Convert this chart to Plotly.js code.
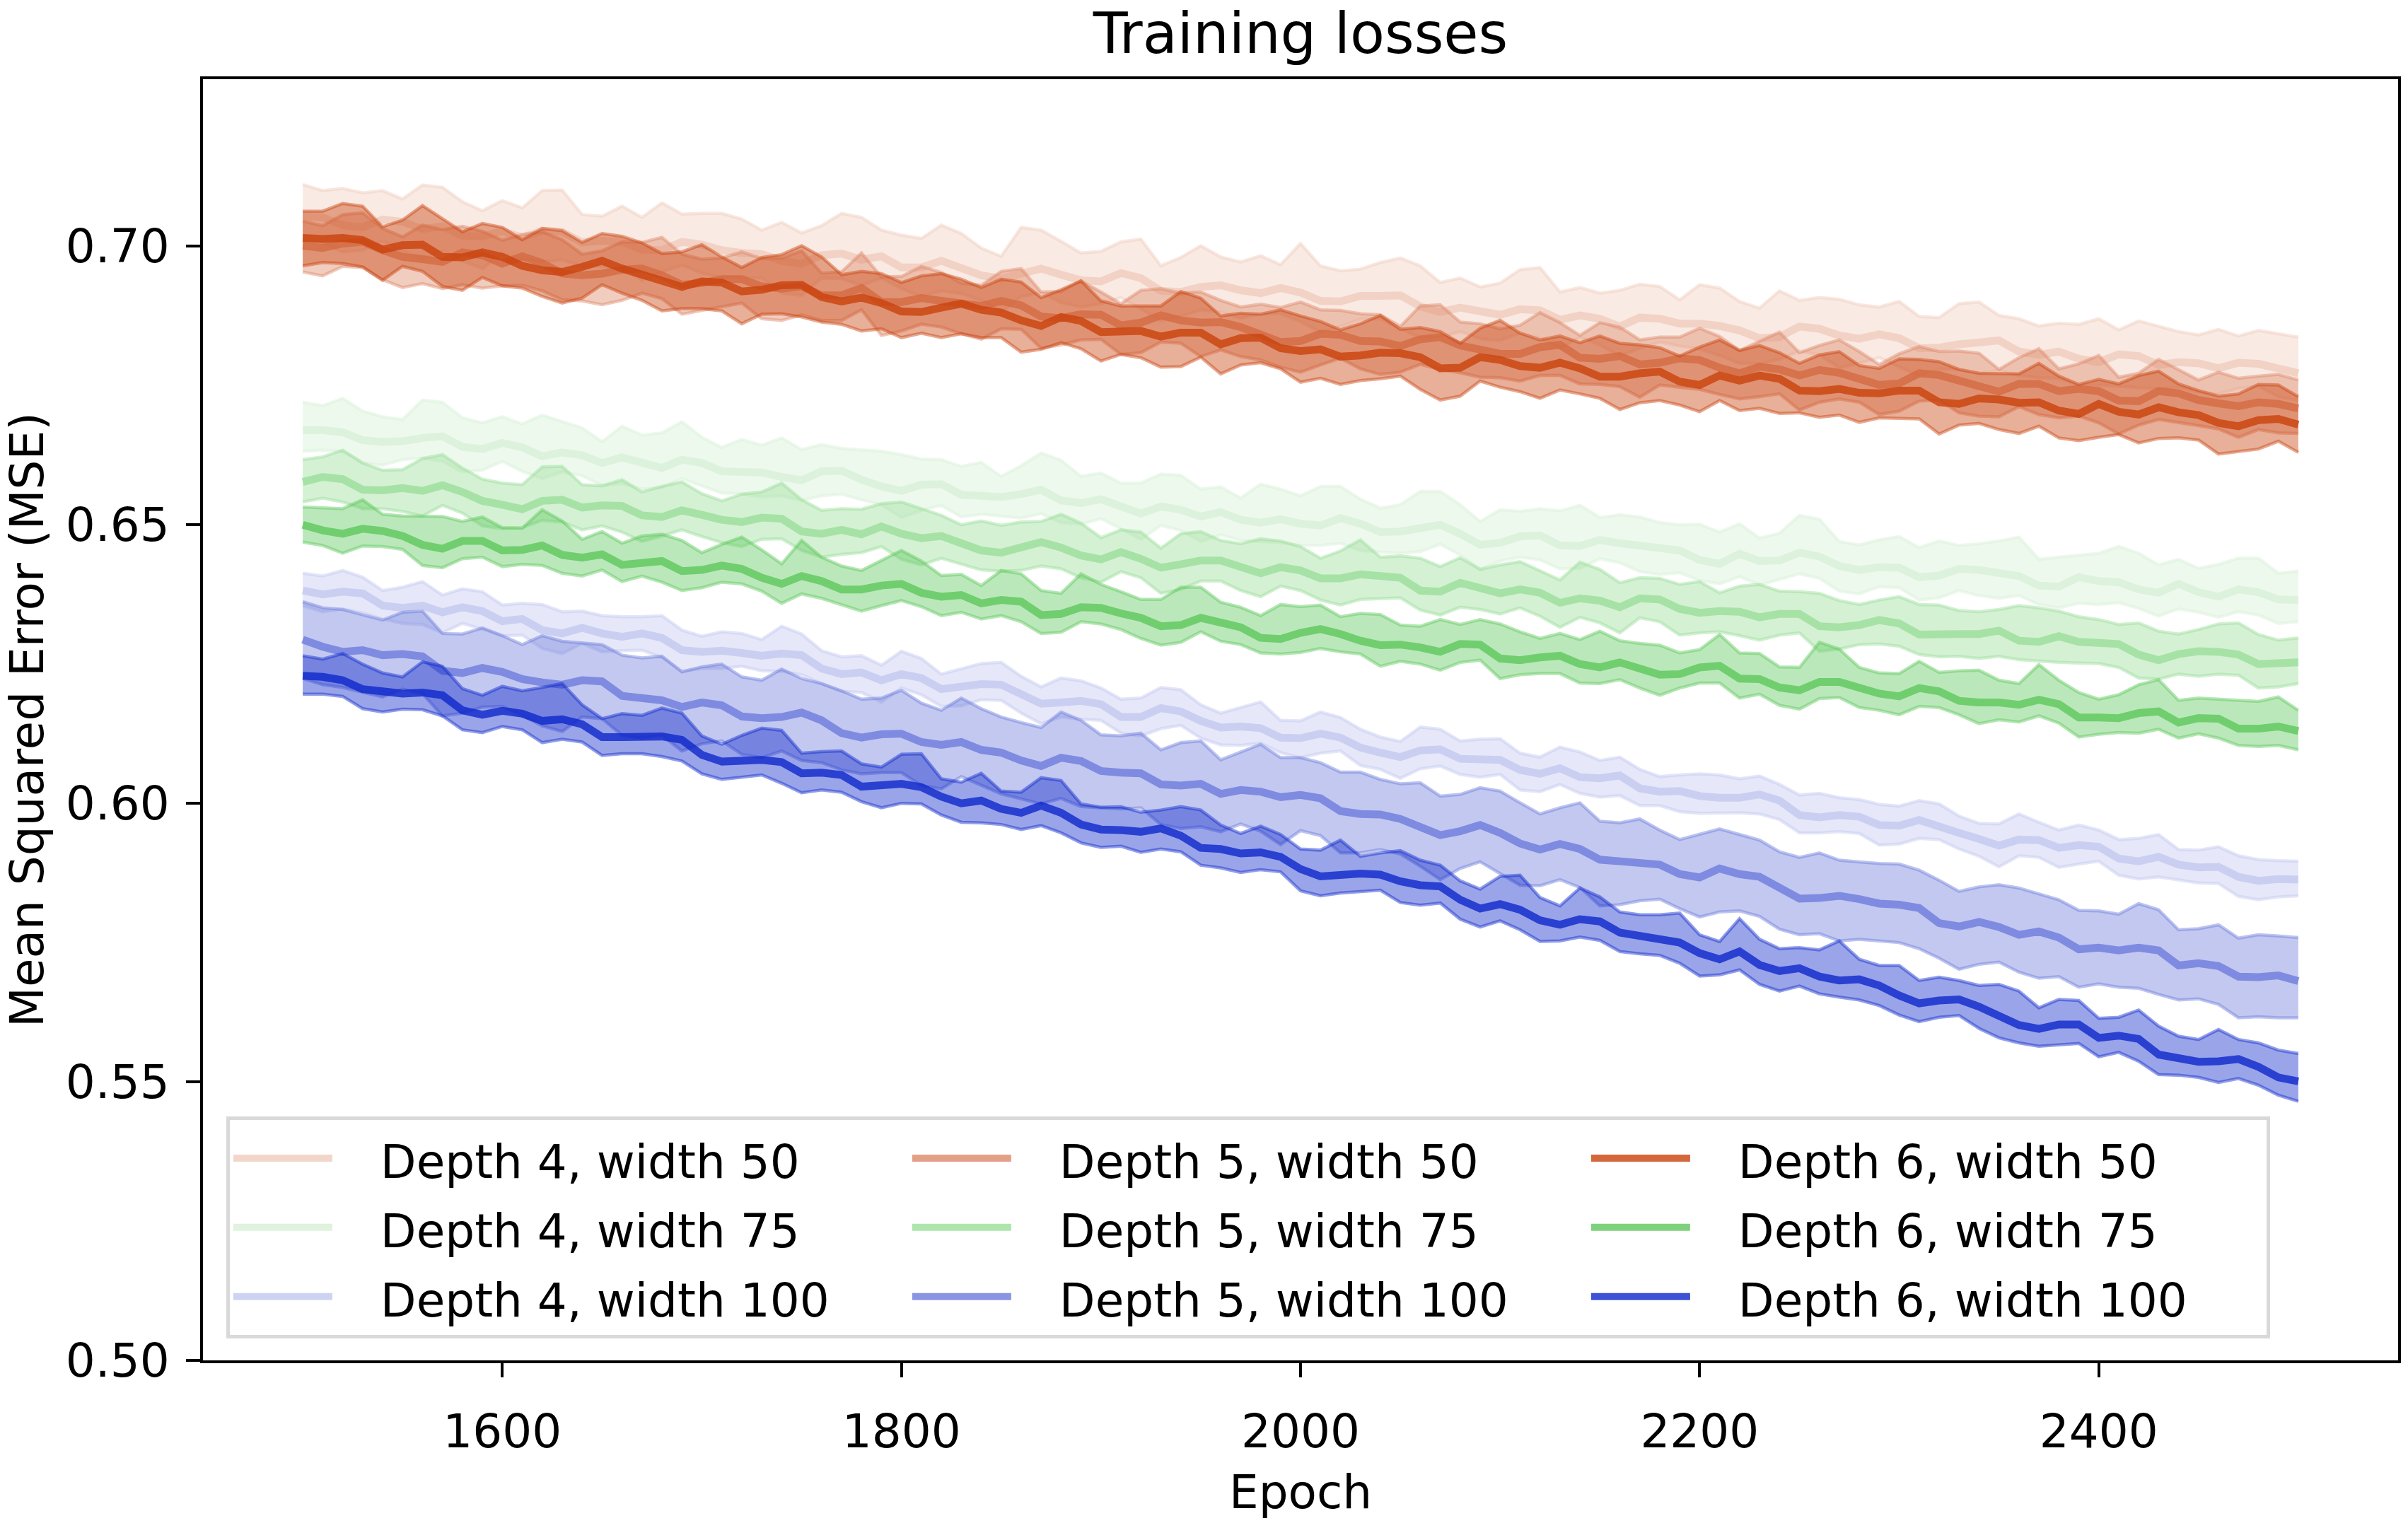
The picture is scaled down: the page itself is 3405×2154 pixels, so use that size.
<!DOCTYPE html>
<html>
<head>
<meta charset="utf-8">
<script src="https://cdn.plot.ly/plotly-3.0.1.min.js"></script>
<style>
  html, body { margin: 0; padding: 0; background: #fff; }
  #chart { width: 3405px; height: 2154px; }
</style>
</head>
<body>
<div id="chart"></div>
<script>
// epochs sampled every 10 steps
let epochs = [1500, 1510, 1520, 1530, 1540, 1550, 1560, 1570, 1580, 1590,
              1600, 1610, 1620, 1630, 1640, 1650, 1660, 1670, 1680, 1690,
              1700, 1710, 1720, 1730, 1740, 1750, 1760, 1770, 1780, 1790,
              1800, 1810, 1820, 1830, 1840, 1850, 1860, 1870, 1880, 1890,
              1900, 1910, 1920, 1930, 1940, 1950, 1960, 1970, 1980, 1990,
              2000, 2010, 2020, 2030, 2040, 2050, 2060, 2070, 2080, 2090,
              2100, 2110, 2120, 2130, 2140, 2150, 2160, 2170, 2180, 2190,
              2200, 2210, 2220, 2230, 2240, 2250, 2260, 2270, 2280, 2290,
              2300, 2310, 2320, 2330, 2340, 2350, 2360, 2370, 2380, 2390,
              2400, 2410, 2420, 2430, 2440, 2450, 2460, 2470, 2480, 2490, 2500];

let xTicks = [1600, 1800, 2000, 2200, 2400];
let yTicks = [0.50, 0.55, 0.60, 0.65, 0.70];
let yTickLabels = ["0.50", "0.55", "0.60", "0.65", "0.70"];

// mean training loss per configuration
let d4w50Mean = [0.7053, 0.7052, 0.7038, 0.7034, 0.7048, 0.7044, 0.7031, 0.7036, 0.7019, 0.7018,
                 0.7027, 0.7016, 0.7028, 0.7026, 0.7007, 0.7010, 0.7008, 0.6994, 0.6993, 0.7008,
                 0.7003, 0.6993, 0.6988, 0.6986, 0.6974, 0.6969, 0.6984, 0.6987, 0.6976, 0.6982,
                 0.6962, 0.6962, 0.6974, 0.6962, 0.6948, 0.6942, 0.6952, 0.6960, 0.6949, 0.6939,
                 0.6937, 0.6952, 0.6943, 0.6920, 0.6918, 0.6927, 0.6930, 0.6921, 0.6916, 0.6925,
                 0.6917, 0.6902, 0.6901, 0.6911, 0.6911, 0.6912, 0.6892, 0.6882, 0.6890, 0.6883,
                 0.6877, 0.6887, 0.6885, 0.6868, 0.6876, 0.6870, 0.6856, 0.6872, 0.6870, 0.6861,
                 0.6861, 0.6857, 0.6849, 0.6835, 0.6837, 0.6856, 0.6852, 0.6840, 0.6834, 0.6842,
                 0.6835, 0.6817, 0.6818, 0.6824, 0.6827, 0.6831, 0.6811, 0.6805, 0.6811, 0.6798,
                 0.6792, 0.6806, 0.6803, 0.6787, 0.6792, 0.6790, 0.6781, 0.6791, 0.6789, 0.6779, 0.6772];
let d5w50Mean = [0.7001, 0.6997, 0.7005, 0.7008, 0.6993, 0.6981, 0.6977, 0.6972, 0.6989, 0.6984,
                 0.6969, 0.6982, 0.6970, 0.6951, 0.6948, 0.6951, 0.6958, 0.6960, 0.6948, 0.6931,
                 0.6934, 0.6941, 0.6941, 0.6928, 0.6924, 0.6928, 0.6912, 0.6912, 0.6925, 0.6900,
                 0.6900, 0.6907, 0.6902, 0.6897, 0.6893, 0.6902, 0.6894, 0.6874, 0.6871, 0.6878,
                 0.6877, 0.6858, 0.6863, 0.6876, 0.6867, 0.6863, 0.6864, 0.6855, 0.6842, 0.6828,
                 0.6830, 0.6843, 0.6841, 0.6830, 0.6829, 0.6821, 0.6833, 0.6837, 0.6822, 0.6816,
                 0.6807, 0.6807, 0.6819, 0.6823, 0.6800, 0.6798, 0.6803, 0.6788, 0.6791, 0.6799,
                 0.6796, 0.6782, 0.6772, 0.6784, 0.6779, 0.6768, 0.6778, 0.6773, 0.6762, 0.6751,
                 0.6754, 0.6772, 0.6769, 0.6758, 0.6749, 0.6739, 0.6753, 0.6753, 0.6740, 0.6744,
                 0.6740, 0.6723, 0.6722, 0.6740, 0.6736, 0.6724, 0.6718, 0.6713, 0.6720, 0.6717, 0.6709];
let d6w50Mean = [0.7015, 0.7013, 0.7015, 0.7011, 0.6994, 0.7002, 0.7003, 0.6981, 0.6980, 0.6989,
                 0.6981, 0.6965, 0.6957, 0.6954, 0.6963, 0.6974, 0.6960, 0.6950, 0.6937, 0.6927,
                 0.6937, 0.6935, 0.6919, 0.6922, 0.6930, 0.6931, 0.6909, 0.6901, 0.6908, 0.6898,
                 0.6883, 0.6882, 0.6890, 0.6897, 0.6886, 0.6881, 0.6867, 0.6857, 0.6873, 0.6866,
                 0.6846, 0.6846, 0.6848, 0.6838, 0.6845, 0.6845, 0.6824, 0.6835, 0.6836, 0.6817,
                 0.6812, 0.6815, 0.6802, 0.6804, 0.6809, 0.6808, 0.6801, 0.6781, 0.6782, 0.6801,
                 0.6796, 0.6785, 0.6782, 0.6791, 0.6781, 0.6766, 0.6766, 0.6772, 0.6775, 0.6757,
                 0.6751, 0.6768, 0.6759, 0.6768, 0.6762, 0.6741, 0.6740, 0.6744, 0.6737, 0.6736,
                 0.6741, 0.6741, 0.6720, 0.6717, 0.6727, 0.6725, 0.6719, 0.6720, 0.6705, 0.6699,
                 0.6717, 0.6703, 0.6698, 0.6711, 0.6702, 0.6697, 0.6683, 0.6677, 0.6688, 0.6690, 0.6680];
let d4w75Mean = [0.6670, 0.6670, 0.6666, 0.6652, 0.6649, 0.6650, 0.6656, 0.6659, 0.6640, 0.6636,
                 0.6647, 0.6639, 0.6623, 0.6630, 0.6625, 0.6611, 0.6621, 0.6611, 0.6602, 0.6617,
                 0.6611, 0.6596, 0.6595, 0.6594, 0.6586, 0.6580, 0.6596, 0.6597, 0.6581, 0.6569,
                 0.6561, 0.6572, 0.6573, 0.6554, 0.6552, 0.6550, 0.6555, 0.6563, 0.6544, 0.6539,
                 0.6546, 0.6534, 0.6520, 0.6533, 0.6527, 0.6515, 0.6523, 0.6509, 0.6504, 0.6510,
                 0.6502, 0.6499, 0.6512, 0.6502, 0.6487, 0.6488, 0.6494, 0.6500, 0.6484, 0.6464,
                 0.6468, 0.6479, 0.6481, 0.6463, 0.6462, 0.6473, 0.6467, 0.6462, 0.6458, 0.6454,
                 0.6437, 0.6430, 0.6448, 0.6435, 0.6436, 0.6450, 0.6443, 0.6426, 0.6419, 0.6424,
                 0.6423, 0.6406, 0.6409, 0.6421, 0.6419, 0.6412, 0.6408, 0.6391, 0.6389, 0.6406,
                 0.6399, 0.6397, 0.6384, 0.6378, 0.6394, 0.6379, 0.6371, 0.6384, 0.6379, 0.6366, 0.6365];
let d5w75Mean = [0.6577, 0.6586, 0.6582, 0.6563, 0.6562, 0.6566, 0.6561, 0.6571, 0.6559, 0.6543,
                 0.6536, 0.6528, 0.6543, 0.6545, 0.6531, 0.6535, 0.6534, 0.6517, 0.6514, 0.6526,
                 0.6518, 0.6509, 0.6505, 0.6513, 0.6511, 0.6488, 0.6484, 0.6491, 0.6483, 0.6497,
                 0.6484, 0.6476, 0.6480, 0.6468, 0.6454, 0.6450, 0.6461, 0.6469, 0.6459, 0.6445,
                 0.6438, 0.6451, 0.6439, 0.6423, 0.6429, 0.6436, 0.6436, 0.6423, 0.6413, 0.6424,
                 0.6418, 0.6404, 0.6404, 0.6411, 0.6407, 0.6405, 0.6382, 0.6380, 0.6396, 0.6386,
                 0.6377, 0.6384, 0.6378, 0.6360, 0.6368, 0.6364, 0.6352, 0.6368, 0.6366, 0.6349,
                 0.6342, 0.6345, 0.6344, 0.6334, 0.6340, 0.6340, 0.6318, 0.6316, 0.6320, 0.6329,
                 0.6323, 0.6303, 0.6302, 0.6304, 0.6304, 0.6310, 0.6292, 0.6290, 0.6300, 0.6290,
                 0.6288, 0.6286, 0.6267, 0.6257, 0.6268, 0.6273, 0.6272, 0.6267, 0.6250, 0.6250, 0.6253];
let d6w75Mean = [0.6500, 0.6490, 0.6484, 0.6493, 0.6489, 0.6480, 0.6464, 0.6457, 0.6471, 0.6471,
                 0.6454, 0.6455, 0.6463, 0.6446, 0.6441, 0.6447, 0.6428, 0.6433, 0.6435, 0.6417,
                 0.6419, 0.6427, 0.6421, 0.6405, 0.6394, 0.6408, 0.6399, 0.6384, 0.6384, 0.6391,
                 0.6394, 0.6378, 0.6371, 0.6374, 0.6359, 0.6365, 0.6362, 0.6338, 0.6340, 0.6352,
                 0.6351, 0.6341, 0.6333, 0.6318, 0.6320, 0.6333, 0.6325, 0.6316, 0.6297, 0.6295,
                 0.6306, 0.6313, 0.6304, 0.6292, 0.6284, 0.6285, 0.6280, 0.6272, 0.6286, 0.6285,
                 0.6260, 0.6257, 0.6262, 0.6265, 0.6250, 0.6244, 0.6253, 0.6243, 0.6231, 0.6232,
                 0.6244, 0.6247, 0.6224, 0.6223, 0.6208, 0.6203, 0.6218, 0.6218, 0.6208, 0.6197,
                 0.6192, 0.6207, 0.6201, 0.6184, 0.6181, 0.6181, 0.6177, 0.6186, 0.6178, 0.6154,
                 0.6154, 0.6153, 0.6162, 0.6165, 0.6145, 0.6153, 0.6152, 0.6134, 0.6134, 0.6138, 0.6130];
let d4w100Mean = [0.6382, 0.6375, 0.6380, 0.6377, 0.6355, 0.6351, 0.6355, 0.6343, 0.6352, 0.6345,
                  0.6327, 0.6331, 0.6311, 0.6305, 0.6315, 0.6305, 0.6299, 0.6305, 0.6297, 0.6275,
                  0.6272, 0.6274, 0.6270, 0.6265, 0.6269, 0.6266, 0.6242, 0.6232, 0.6235, 0.6221,
                  0.6232, 0.6225, 0.6205, 0.6209, 0.6214, 0.6213, 0.6195, 0.6179, 0.6181, 0.6184,
                  0.6178, 0.6155, 0.6155, 0.6171, 0.6165, 0.6148, 0.6136, 0.6138, 0.6135, 0.6118,
                  0.6117, 0.6125, 0.6118, 0.6100, 0.6091, 0.6083, 0.6095, 0.6097, 0.6080, 0.6080,
                  0.6078, 0.6060, 0.6053, 0.6063, 0.6047, 0.6045, 0.6050, 0.6027, 0.6021, 0.6022,
                  0.6013, 0.6010, 0.6010, 0.6016, 0.6005, 0.5979, 0.5975, 0.5979, 0.5976, 0.5961,
                  0.5960, 0.5970, 0.5960, 0.5947, 0.5936, 0.5924, 0.5935, 0.5934, 0.5920, 0.5925,
                  0.5922, 0.5901, 0.5896, 0.5904, 0.5890, 0.5885, 0.5886, 0.5868, 0.5861, 0.5864, 0.5863];
let d5w100Mean = [0.6294, 0.6281, 0.6272, 0.6275, 0.6266, 0.6268, 0.6264, 0.6238, 0.6234, 0.6243,
                  0.6236, 0.6223, 0.6217, 0.6213, 0.6221, 0.6219, 0.6193, 0.6190, 0.6185, 0.6173,
                  0.6181, 0.6176, 0.6156, 0.6153, 0.6155, 0.6163, 0.6149, 0.6126, 0.6118, 0.6124,
                  0.6125, 0.6110, 0.6105, 0.6110, 0.6096, 0.6091, 0.6077, 0.6067, 0.6082, 0.6076,
                  0.6058, 0.6055, 0.6054, 0.6034, 0.6032, 0.6035, 0.6017, 0.6024, 0.6021, 0.6011,
                  0.6015, 0.6009, 0.5986, 0.5981, 0.5980, 0.5972, 0.5957, 0.5943, 0.5950, 0.5961,
                  0.5947, 0.5928, 0.5917, 0.5927, 0.5918, 0.5899, 0.5896, 0.5894, 0.5890, 0.5873,
                  0.5867, 0.5883, 0.5873, 0.5868, 0.5848, 0.5829, 0.5830, 0.5834, 0.5828, 0.5820,
                  0.5818, 0.5812, 0.5785, 0.5779, 0.5787, 0.5778, 0.5764, 0.5770, 0.5759, 0.5738,
                  0.5741, 0.5736, 0.5741, 0.5736, 0.5709, 0.5713, 0.5708, 0.5689, 0.5688, 0.5691, 0.5681];
let d6w100Mean = [0.6229, 0.6227, 0.6221, 0.6205, 0.6201, 0.6197, 0.6199, 0.6194, 0.6167, 0.6159,
                  0.6166, 0.6161, 0.6148, 0.6151, 0.6142, 0.6119, 0.6119, 0.6119, 0.6120, 0.6114,
                  0.6087, 0.6075, 0.6076, 0.6078, 0.6074, 0.6054, 0.6055, 0.6051, 0.6030, 0.6031,
                  0.6035, 0.6029, 0.6012, 0.6000, 0.6005, 0.5990, 0.5983, 0.5996, 0.5983, 0.5962,
                  0.5953, 0.5952, 0.5949, 0.5955, 0.5942, 0.5920, 0.5918, 0.5910, 0.5912, 0.5904,
                  0.5882, 0.5869, 0.5872, 0.5874, 0.5872, 0.5860, 0.5853, 0.5851, 0.5827, 0.5811,
                  0.5819, 0.5809, 0.5790, 0.5782, 0.5792, 0.5788, 0.5768, 0.5761, 0.5756, 0.5750,
                  0.5731, 0.5720, 0.5734, 0.5710, 0.5699, 0.5704, 0.5689, 0.5682, 0.5684, 0.5673,
                  0.5655, 0.5641, 0.5646, 0.5648, 0.5635, 0.5617, 0.5602, 0.5595, 0.5603, 0.5603,
                  0.5579, 0.5583, 0.5577, 0.5549, 0.5543, 0.5536, 0.5537, 0.5541, 0.5527, 0.5508, 0.5501];

// reach of the run envelope above / below the mean, in units of 1e-4
let d4w50Up = [58, 48, 66, 62, 52, 41, 79, 70, 61, 46, 55, 53, 72, 75, 50, 44, 64, 58, 85, 50,
               56, 66, 61, 43, 69, 55, 53, 72, 76, 47, 58, 52, 64, 61, 49, 40, 82, 69, 60, 49,
               54, 56, 70, 45, 62, 74, 51, 51, 67, 42, 88, 63, 55, 48, 60, 67, 73, 53, 53, 44,
               57, 71, 77, 50, 50, 46, 65, 60, 58, 43, 70, 68, 52, 54, 83, 47, 56, 65, 61, 49,
               66, 57, 54, 73, 73, 45, 59, 52, 51, 62, 78, 44, 63, 70, 55, 51, 70, 48, 60, 64, 65];
let d4w50Lo = [42, 47, 48, 41, 38, 53, 53, 44, 45, 58, 40, 40, 56, 50, 43, 46, 47, 55, 39, 42,
               51, 49, 44, 43, 58, 57, 41, 45, 46, 39, 38, 52, 54, 47, 45, 60, 42, 43, 50, 48,
               40, 44, 55, 54, 44, 41, 48, 50, 37, 46, 52, 56, 45, 42, 41, 59, 57, 45, 43, 49,
               46, 43, 49, 51, 39, 47, 53, 55, 42, 40, 45, 53, 59, 46, 40, 44, 47, 58, 44, 42,
               51, 50, 38, 45, 54, 54, 43, 41, 48, 48, 41, 57, 56, 43, 45, 52, 46, 46, 40, 49, 49];
let d5w50Up = [44, 40, 52, 52, 39, 36, 61, 58, 47, 43, 42, 39, 56, 61, 38, 41, 50, 47, 68, 55,
               43, 38, 49, 50, 55, 64, 40, 42, 63, 45, 46, 57, 51, 37, 37, 53, 66, 44, 48, 60,
               41, 39, 58, 48, 49, 55, 39, 36, 54, 62, 70, 43, 44, 49, 48, 35, 60, 58, 42, 45,
               45, 51, 62, 40, 40, 65, 52, 44, 46, 38, 57, 56, 41, 46, 67, 41, 44, 59, 49, 37,
               53, 48, 42, 54, 59, 40, 47, 63, 40, 45, 64, 42, 50, 57, 43, 36, 56, 50, 47, 53, 51];
let d5w50Lo = [47, 50, 41, 46, 53, 55, 44, 48, 58, 59, 40, 52, 50, 47, 46, 56, 55, 44, 42, 53,
               49, 49, 43, 58, 57, 51, 45, 45, 39, 60, 52, 47, 47, 54, 60, 50, 43, 57, 48, 46,
               44, 52, 54, 48, 41, 61, 50, 53, 46, 45, 56, 56, 42, 50, 59, 47, 45, 58, 49, 51,
               43, 49, 51, 55, 47, 46, 55, 59, 40, 52, 53, 48, 46, 54, 44, 62, 58, 47, 42, 53,
               50, 50, 45, 57, 54, 45, 41, 55, 48, 49, 57, 60, 43, 51, 52, 46, 46, 56, 49, 52, 45];
let d6w50Up = [48, 50, 62, 61, 41, 45, 70, 68, 46, 52, 53, 47, 75, 74, 44, 49, 58, 56, 50, 63,
               66, 46, 43, 58, 55, 70, 72, 48, 47, 53, 52, 65, 61, 44, 40, 60, 69, 51, 49, 72,
               56, 47, 45, 55, 74, 62, 51, 45, 42, 69, 63, 50, 48, 57, 67, 43, 53, 66, 44, 52,
               71, 59, 50, 48, 46, 73, 60, 51, 43, 46, 68, 64, 54, 54, 47, 49, 65, 67, 49, 45,
               57, 56, 73, 62, 45, 47, 52, 70, 62, 53, 44, 50, 70, 65, 51, 44, 48, 58, 64, 61, 50];
let d6w50Lo = [50, 42, 46, 48, 55, 38, 48, 53, 59, 45, 52, 40, 47, 56, 56, 43, 44, 47, 53, 39,
               49, 51, 58, 44, 51, 58, 45, 41, 60, 46, 47, 38, 54, 54, 50, 45, 57, 42, 46, 50,
               52, 40, 48, 55, 61, 44, 53, 48, 45, 37, 56, 52, 50, 45, 47, 41, 58, 57, 51, 43,
               49, 46, 55, 49, 46, 39, 59, 53, 52, 42, 48, 45, 54, 59, 62, 40, 47, 47, 53, 44,
               50, 51, 57, 38, 45, 54, 55, 43, 49, 48, 60, 41, 51, 56, 46, 45, 56, 46, 52, 40, 50];
let d4w75Up = [50, 44, 61, 52, 45, 39, 68, 61, 52, 47, 47, 42, 74, 56, 49, 38, 56, 50, 63, 68,
               46, 43, 58, 49, 70, 55, 48, 40, 53, 63, 65, 46, 44, 51, 60, 37, 51, 66, 72, 48,
               47, 41, 55, 58, 62, 49, 45, 39, 69, 54, 50, 70, 57, 44, 43, 48, 66, 60, 52, 42,
               59, 45, 48, 62, 73, 40, 51, 52, 46, 46, 64, 57, 54, 41, 49, 67, 67, 44, 45, 49,
               56, 53, 62, 42, 47, 59, 70, 47, 53, 40, 50, 64, 65, 50, 44, 43, 58, 56, 61, 47, 52];
let d4w75Lo = [38, 36, 34, 41, 42, 33, 36, 45, 45, 38, 33, 43, 40, 35, 37, 40, 47, 47, 35, 34,
               41, 39, 39, 44, 34, 36, 44, 42, 36, 33, 48, 46, 38, 40, 33, 35, 43, 43, 40, 38,
               35, 41, 46, 34, 37, 45, 41, 37, 34, 42, 39, 36, 45, 48, 36, 39, 42, 35, 38, 44,
               33, 37, 44, 42, 40, 34, 35, 46, 47, 40, 37, 36, 41, 43, 34, 38, 39, 45, 43, 35,
               36, 41, 40, 39, 46, 44, 35, 34, 38, 47, 42, 37, 34, 42, 45, 36, 37, 40, 41, 43, 39];
let d5w75Up = [40, 36, 52, 48, 36, 33, 58, 55, 43, 39, 39, 44, 61, 60, 41, 35, 47, 42, 55, 51,
               38, 34, 50, 46, 64, 57, 42, 38, 45, 41, 57, 53, 37, 32, 53, 49, 44, 37, 60, 58,
               39, 40, 48, 35, 55, 52, 36, 43, 62, 47, 43, 36, 49, 62, 35, 39, 58, 45, 45, 34,
               51, 50, 40, 41, 65, 56, 44, 37, 38, 44, 56, 33, 46, 59, 41, 40, 59, 48, 37, 36,
               48, 54, 54, 42, 40, 38, 63, 61, 45, 45, 42, 35, 57, 52, 36, 39, 50, 57, 53, 43, 44];
let d5w75Lo = [36, 38, 41, 34, 33, 42, 45, 36, 38, 45, 43, 33, 35, 40, 40, 37, 47, 47, 34, 35,
               39, 41, 44, 39, 36, 34, 42, 44, 33, 36, 46, 48, 40, 38, 35, 33, 43, 43, 38, 40,
               41, 35, 34, 46, 45, 37, 37, 41, 42, 34, 36, 39, 48, 45, 39, 36, 35, 42, 44, 38,
               37, 33, 42, 44, 34, 40, 46, 35, 40, 47, 36, 37, 43, 41, 38, 34, 45, 39, 35, 43,
               41, 36, 39, 40, 44, 46, 34, 35, 47, 38, 37, 42, 42, 34, 36, 45, 40, 37, 43, 41, 38];
let d6w75Up = [32, 40, 45, 52, 30, 36, 52, 58, 35, 43, 41, 39, 64, 61, 33, 41, 39, 47, 48, 55,
               31, 38, 57, 50, 36, 64, 43, 42, 34, 45, 60, 57, 38, 37, 32, 53, 50, 44, 37, 60,
               42, 39, 33, 48, 68, 55, 36, 36, 40, 62, 47, 43, 31, 49, 55, 35, 38, 58, 35, 45,
               62, 51, 34, 40, 44, 65, 39, 44, 53, 38, 32, 56, 46, 46, 37, 41, 71, 59, 36, 37,
               41, 48, 34, 54, 58, 40, 38, 63, 43, 45, 33, 42, 51, 57, 40, 36, 35, 50, 49, 53, 37];
let d6w75Lo = [31, 27, 35, 31, 28, 24, 37, 34, 32, 29, 29, 26, 36, 33, 33, 28, 30, 25, 38, 35,
               32, 30, 27, 24, 35, 32, 31, 27, 39, 36, 30, 25, 34, 31, 28, 28, 36, 33, 33, 26,
               29, 29, 37, 34, 31, 25, 34, 31, 27, 27, 35, 35, 32, 24, 38, 30, 30, 33, 33, 28,
               36, 26, 29, 32, 34, 29, 31, 36, 37, 25, 28, 31, 35, 27, 32, 34, 30, 28, 36, 30,
               33, 33, 29, 25, 38, 31, 31, 29, 34, 35, 30, 26, 36, 32, 28, 28, 35, 30, 32, 34, 34];
let d4w100Up = [31, 33, 38, 29, 27, 37, 43, 31, 33, 35, 29, 28, 46, 39, 30, 32, 36, 30, 40, 36,
                28, 34, 35, 29, 49, 38, 32, 31, 30, 27, 41, 35, 27, 33, 37, 40, 33, 30, 44, 36,
                29, 32, 34, 37, 39, 29, 26, 34, 47, 31, 31, 39, 36, 33, 28, 28, 42, 36, 32, 35,
                38, 30, 30, 38, 45, 32, 33, 34, 27, 29, 40, 41, 34, 33, 29, 36, 43, 31, 31, 37,
                35, 35, 39, 30, 28, 39, 46, 32, 32, 36, 30, 34, 41, 40, 27, 31, 36, 38, 38, 33, 33];
let d4w100Lo = [27, 31, 31, 35, 24, 28, 34, 37, 29, 32, 26, 29, 33, 36, 28, 33, 25, 30, 35, 38,
                30, 32, 24, 27, 32, 35, 27, 31, 36, 39, 25, 30, 31, 34, 28, 28, 33, 36, 26, 33,
                29, 29, 34, 37, 25, 31, 31, 34, 27, 27, 35, 35, 24, 32, 30, 38, 33, 30, 28, 33,
                26, 36, 32, 29, 29, 34, 36, 31, 25, 37, 31, 28, 27, 35, 34, 32, 28, 30, 30, 36,
                33, 33, 25, 29, 31, 38, 29, 31, 35, 34, 26, 30, 32, 36, 28, 28, 30, 35, 34, 32, 29];
let d5w100Up = [68, 70, 76, 64, 63, 75, 81, 67, 70, 72, 65, 62, 84, 78, 67, 66, 73, 71, 79, 63,
                64, 74, 71, 68, 86, 61, 66, 76, 69, 65, 78, 70, 62, 79, 74, 64, 68, 69, 82, 73,
                65, 66, 72, 62, 77, 77, 61, 68, 85, 71, 67, 64, 70, 75, 63, 63, 80, 70, 66, 67,
                75, 73, 64, 65, 83, 69, 69, 78, 62, 62, 78, 71, 71, 66, 65, 74, 81, 64, 67, 72,
                73, 68, 77, 63, 63, 76, 84, 67, 68, 70, 66, 65, 79, 73, 64, 62, 74, 69, 76, 71, 78];
let d5w100Lo = [70, 68, 64, 76, 75, 63, 67, 81, 72, 70, 62, 65, 78, 84, 66, 67, 71, 73, 63, 79,
                74, 64, 68, 71, 61, 86, 76, 66, 65, 69, 70, 78, 79, 62, 64, 74, 69, 68, 73, 82,
                66, 65, 62, 72, 77, 77, 68, 61, 71, 85, 64, 67, 75, 70, 63, 63, 70, 80, 67, 66,
                73, 75, 65, 64, 69, 83, 78, 69, 62, 62, 71, 78, 66, 71, 74, 65, 64, 81, 72, 67,
                68, 73, 63, 77, 76, 63, 67, 84, 70, 68, 65, 66, 73, 79, 62, 64, 69, 74, 71, 76, 66];
let d6w100Up = [36, 32, 48, 45, 33, 30, 55, 52, 39, 35, 44, 41, 60, 64, 35, 33, 42, 39, 51, 48,
                34, 31, 46, 57, 57, 36, 38, 43, 41, 34, 53, 60, 32, 38, 49, 32, 37, 50, 58, 37,
                40, 42, 35, 33, 52, 68, 43, 36, 47, 40, 36, 47, 62, 31, 39, 55, 45, 38, 34, 35,
                50, 62, 41, 34, 56, 44, 37, 39, 44, 53, 33, 32, 59, 46, 40, 37, 48, 71, 36, 36,
                54, 41, 42, 34, 38, 58, 61, 38, 45, 43, 35, 33, 52, 51, 39, 40, 57, 35, 43, 49, 50];
let d6w100Lo = [33, 31, 29, 35, 37, 28, 31, 37, 35, 32, 28, 29, 39, 36, 32, 33, 30, 30, 36, 38,
                34, 32, 29, 27, 38, 35, 31, 31, 27, 39, 35, 30, 33, 34, 40, 28, 30, 36, 36, 33,
                32, 29, 37, 37, 29, 31, 34, 34, 31, 27, 39, 35, 33, 32, 28, 38, 36, 30, 35, 33,
                30, 36, 38, 29, 32, 34, 34, 31, 29, 37, 41, 28, 33, 35, 36, 32, 31, 30, 37, 36,
                35, 33, 30, 29, 39, 38, 32, 31, 36, 34, 34, 30, 40, 36, 31, 28, 38, 35, 33, 32, 36];

// drawn depth by depth so the deeper nets sit on top
let series = [
    { name: "Depth 4, width 50",  mean: d4w50Mean,  up: d4w50Up,  lo: d4w50Lo,  rgb: "240,204,189", rank: 1 },
    { name: "Depth 4, width 75",  mean: d4w75Mean,  up: d4w75Up,  lo: d4w75Lo,  rgb: "215,240,215", rank: 4 },
    { name: "Depth 4, width 100", mean: d4w100Mean, up: d4w100Up, lo: d4w100Lo, rgb: "195,200,240", rank: 7 },
    { name: "Depth 5, width 50",  mean: d5w50Mean,  up: d5w50Up,  lo: d5w50Lo,  rgb: "221,136,105", rank: 2 },
    { name: "Depth 5, width 75",  mean: d5w75Mean,  up: d5w75Up,  lo: d5w75Lo,  rgb: "154,222,153", rank: 5 },
    { name: "Depth 5, width 100", mean: d5w100Mean, up: d5w100Up, lo: d5w100Lo, rgb: "109,124,220", rank: 8 },
    { name: "Depth 6, width 50",  mean: d6w50Mean,  up: d6w50Up,  lo: d6w50Lo,  rgb: "201,65,11",   rank: 3 },
    { name: "Depth 6, width 75",  mean: d6w75Mean,  up: d6w75Up,  lo: d6w75Lo,  rgb: "94,199,92",   rank: 6 },
    { name: "Depth 6, width 100", mean: d6w100Mean, up: d6w100Up, lo: d6w100Lo, rgb: "14,39,203",   rank: 9 }
];

function rgba(rgb, a) {
    return "rgba(" + rgb + "," + a + ")";
}

// legend font is set a bit larger to get matplotlib's row spacing,
// the label itself is drawn at tick size
function legendLabel(name) {
    return '<span style="font-size:66px">\u00a0\u00a0\u00a0' + name + '</span>';
}

function seriesTraces(s) {
    let upper = s.mean.map((m, i) => m + s.up[i] * 1e-4);
    let lower = s.mean.map((m, i) => m - s.lo[i] * 1e-4);
    let edge = { color: rgba(s.rgb, 0.45), width: 4.5 };

    let lowerTrace = {
        x: epochs, y: lower, type: "scatter", mode: "lines",
        line: edge, showlegend: false, hoverinfo: "skip"
    };
    let upperTrace = {
        x: epochs, y: upper, type: "scatter", mode: "lines",
        line: edge, fill: "tonexty", fillcolor: rgba(s.rgb, 0.42),
        showlegend: false, hoverinfo: "skip"
    };
    let meanTrace = {
        x: epochs, y: s.mean, type: "scatter", mode: "lines", name: legendLabel(s.name),
        line: { color: rgba(s.rgb, 0.8), width: 11 },
        legendrank: s.rank
    };
    return [lowerTrace, upperTrace, meanTrace];
}

let traces = [];
series.forEach(s => traces.push(...seriesTraces(s)));

let axisStyle = {
    showline: true, linewidth: 4, linecolor: "black", mirror: true,
    ticks: "outside", ticklen: 20, tickwidth: 4, tickcolor: "black",
    showgrid: false, zeroline: false,
    tickfont: { size: 66 }
};

let layout = {
    width: 3405,
    height: 2154,
    margin: { l: 287, r: 14, t: 112, b: 230 },
    paper_bgcolor: "white",
    plot_bgcolor: "white",
    font: { family: "DejaVu Sans", size: 66, color: "black" },
    title: {
        text: "Training losses",
        font: { size: 80 },
        x: 0.5, xref: "paper",
        y: 0.978, yref: "container", yanchor: "middle"
    },
    xaxis: Object.assign({}, axisStyle, {
        range: [1450, 2550],
        tickvals: xTicks,
        ticklabelstandoff: 20,
        title: { text: "Epoch", font: { size: 66 }, standoff: 26 }
    }),
    yaxis: Object.assign({}, axisStyle, {
        range: [0.5, 0.73],
        tickvals: yTicks,
        ticktext: yTickLabels,
        ticklabelstandoff: 10,
        title: { text: "Mean Squared Error (MSE)", font: { size: 66 }, standoff: 30 }
    }),
    showlegend: true,
    legend: {
        orientation: "h",
        traceorder: "normal",
        x: 0.0106, y: 0.1904,
        xanchor: "left", yanchor: "top",
        bgcolor: "rgba(255,255,255,0.8)",
        bordercolor: "#d9d9d9",
        borderwidth: 5,
        entrywidth: 805,
        entrywidthmode: "pixels",
        itemwidth: 140,
        font: { size: 73 }
    }
};

Plotly.newPlot("chart", traces, layout, { displayModeBar: false, staticPlot: true });
</script>
</body>
</html>
